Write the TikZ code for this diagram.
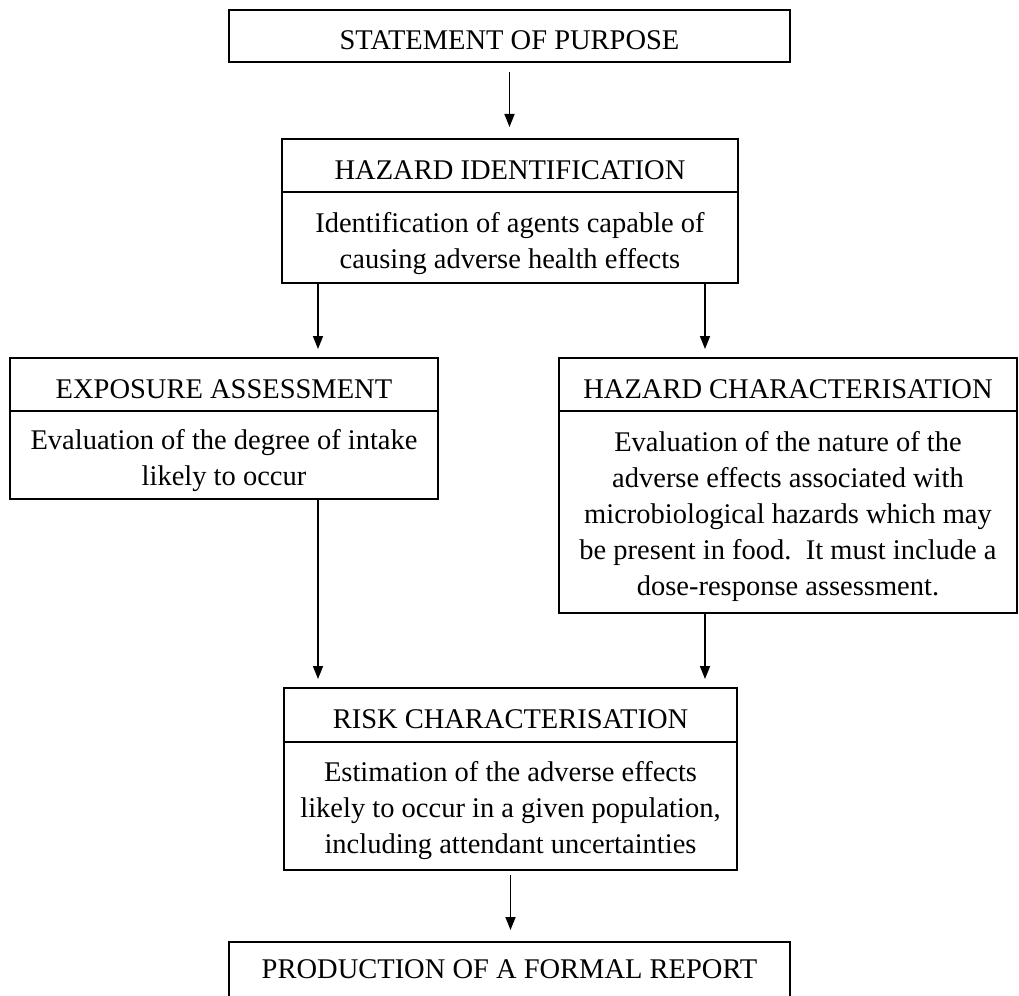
\documentclass[tikz,border=0pt]{standalone}
\usepackage{fontspec}
\setmainfont{Liberation Serif}
\usetikzlibrary{positioning,arrows.meta}

\tikzset{
  txt/.style={align=center, inner sep=0pt, outer sep=0pt, font=\fontsize{28.5}{36}\selectfont},
  box/.style={txt, draw, line width=1.7pt},
  head/.style={box, text height=27pt, text depth=0pt},
  arr/.style={-{Triangle[length=13pt,width=10pt]}, line width=1.6pt},
}

\begin{document}
\begin{tikzpicture}[x=1pt,y=1pt]
    \clip (0,0) rectangle (1019,-995);
    \coordinate (xl) at (318,0);
    \coordinate (xr) at (705,0);

    % Purpose
    \node[head, minimum width=561pt, minimum height=52pt] (purpose) at (509.5,-36) {STATEMENT OF PURPOSE};

    % Hazard identification
    \node[head, minimum width=456pt, minimum height=53pt] (hihead) at (510,-165.5) {HAZARD IDENTIFICATION};
    \node[box, minimum width=456pt, minimum height=91pt, below=0pt of hihead] (hibody) {};
    \node[txt] (hitext) at ([yshift=-6pt]hibody.center)
        {Identification of agents capable of\\causing adverse health effects};

    % Exposure assessment
    \node[head, minimum width=428pt, minimum height=53pt] (expohead) at (224,-384.5) {EXPOSURE ASSESSMENT};
    \node[box, minimum width=428pt, minimum height=88pt, below=0pt of expohead] (expobody) {};
    \node[txt] (expotext) at ([yshift=-6pt]expobody.center)
        {Evaluation of the degree of intake\\likely to occur};

    % Hazard characterisation
    \node[head, minimum width=458pt, minimum height=53pt] (hchead) at (788,-384.5) {HAZARD CHARACTERISATION};
    \node[box, minimum width=458pt, minimum height=202pt, below=0pt of hchead] (hcbody) {};
    \node[txt] (hctext) at ([yshift=-4pt]hcbody.center)
        {Evaluation of the nature of the\\adverse effects associated with\\microbiological hazards which may\\be present in food.\ \ It must include a\\dose-response assessment.};

    % Risk characterisation
    \node[head, minimum width=453pt, minimum height=54pt] (riskhead) at (510.5,-715) {RISK CHARACTERISATION};
    \node[box, minimum width=453pt, minimum height=128pt, below=0pt of riskhead] (riskbody) {};
    \node[txt] (risktext) at ([yshift=-5pt]riskbody.center)
        {Estimation of the adverse effects\\likely to occur in a given population,\\including attendant uncertainties};

    % Report (cut off at the bottom)
    \node[txt, minimum width=561pt, minimum height=54pt, anchor=north] (report) at (509.5,-942) {PRODUCTION OF A FORMAL REPORT};
    \draw[line width=1.7pt] (report.south west) -- (report.north west) -- (report.north east) -- (report.south east);

    % Arrows
    \draw[arr, shorten <=10pt, shorten >=12pt] (purpose.south) -- (purpose.south |- hihead.north);
    \draw[arr, shorten >=9pt] (hibody.south -| xl) -- (expohead.north -| xl);
    \draw[arr, shorten >=9pt] (hibody.south -| xr) -- (hchead.north -| xr);
    \draw[arr, shorten >=9pt] (expobody.south -| xl) -- (riskhead.north -| xl);
    \draw[arr, shorten >=9pt] (hcbody.south -| xr) -- (riskhead.north -| xr);
    \draw[arr, shorten <=5pt, shorten >=12pt] (riskbody.south) -- (riskbody.south |- report.north);
\end{tikzpicture}
\end{document}
